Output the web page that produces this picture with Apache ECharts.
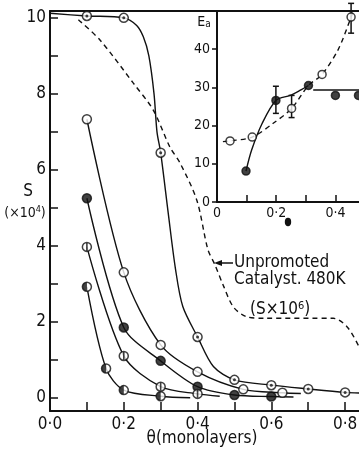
<!DOCTYPE html>
<html>
<head>
<meta charset="utf-8">
<script src="https://cdn.jsdelivr.net/npm/echarts@6/dist/echarts.min.js"></script>
<style>
  html, body { margin: 0; padding: 0; background: #fff; }
  #chart { width: 359px; height: 450px; }
</style>
</head>
<body>
<div id="chart"></div>
<script>
// ---- main plot: S (x10^4) vs coverage theta ----
var xTicks = [0, 0.1, 0.2, 0.3, 0.4, 0.5, 0.6, 0.7, 0.8, 0.9];
var xLabels = [0, 0.2, 0.4, 0.6, 0.8];
var yTicks = [0, 1, 2, 3, 4, 5, 6, 7, 8, 9, 10];
var yLabels = [0, 2, 4, 6, 8, 10];

// markers, [theta, S]
var dotCircle = [[0.1, 10.05], [0.2, 10.0], [0.3, 6.45], [0.4, 1.6], [0.5, 0.47], [0.6, 0.33], [0.7, 0.23], [0.8, 0.14]];
var openCircle = [[0.1, 7.33], [0.2, 3.3], [0.3, 1.39], [0.4, 0.68], [0.524, 0.22], [0.63, 0.13]];
var filledCircle = [[0.1, 5.25], [0.2, 1.85], [0.3, 0.97], [0.4, 0.29], [0.5, 0.07], [0.6, 0.03]];
var barCircle = [[0.1, 3.97], [0.2, 1.1], [0.3, 0.29], [0.4, 0.1]];
var halfCircle = [[0.1, 2.92], [0.152, 0.77], [0.2, 0.2], [0.3, 0.04]];

// drawn curves
var dotCircleCurve = [[0, 10.12], [0.1, 10.05], [0.2, 10.0], [0.235, 9.8], [0.253, 9.5], [0.268, 9.0], [0.282, 8.0],
    [0.29, 7.0], [0.3, 6.45], [0.32, 4.9], [0.34, 3.4], [0.36, 2.4], [0.4, 1.6], [0.443, 0.82], [0.5, 0.47],
    [0.6, 0.33], [0.7, 0.23], [0.8, 0.14], [0.85, 0.12]];
var openTail = [[0.68, 0.11]];
var filledTail = [[0.66, 0.02]];
var barTail = [[0.46, 0.04]];
var halfTail = [[0.38, 0.0]];
var unpromoted = [[0.077, 9.95], [0.136, 9.41], [0.226, 8.28], [0.28, 7.57], [0.325, 6.6], [0.353, 6.17], [0.398, 5.2],
    [0.428, 3.9], [0.447, 3.5], [0.47, 2.95], [0.497, 2.39], [0.533, 2.13], [0.58, 2.09], [0.768, 2.09],
    [0.805, 1.87], [0.838, 1.34], [0.86, 0.9]];

// ---- inset: Ea vs theta ----
var insetXTicks = [0, 0.1, 0.2, 0.3, 0.4];
var insetXLabels = [0, 0.2, 0.4];
var insetYTicks = [0, 10, 20, 30, 40];
var insetYLabels = [0, 10, 20, 30, 40];
var eaOpen = [[0.044, 16.0], [0.119, 17.0], [0.252, 24.5], [0.355, 33.4], [0.453, 48.4]];
var eaFilled = [[0.098, 8.1], [0.199, 26.6], [0.309, 30.5], [0.4, 27.9], [0.478, 27.9]];
var eaOpenCurve = [[0.02, 15.8], [0.044, 16.0], [0.119, 17.0], [0.19, 20.6], [0.252, 24.5], [0.309, 30.5],
    [0.355, 33.4], [0.41, 40], [0.453, 48.4], [0.47, 52]];
var eaFilledRise = [[0.098, 8.1], [0.117, 13.6], [0.152, 20.5], [0.199, 26.6], [0.247, 27.9], [0.28, 29.2], [0.309, 30.5]];
var eaFilledFlat = [[0.325, 29.3], [0.5, 29.3]];
// error bars [theta, low, high]
var eaOpenErr = [[0.252, 22.1, 27.9], [0.453, 44.2, 52]];
var eaFilledErr = [[0.199, 23.2, 30.3]];

var FONT = "'Liberation Sans Narrow', 'DejaVu Sans Condensed', sans-serif";
var INK = '#111';

function fmtTheta(v) {
    if (v === 0) return '0·0';
    return v.toFixed(1).replace('.', '·');
}
function fmtInsetTheta(v) {
    if (v === 0) return '0';
    return v.toFixed(1).replace('.', '·');
}

function curve(data, xi, yi, dashed) {
    return {
        type: 'line', xAxisIndex: xi, yAxisIndex: yi, data: data,
        showSymbol: false, smooth: 0.3, z: 2, silent: true,
        lineStyle: { color: INK, width: 1.4, type: dashed ? [5, 4] : 'solid' }
    };
}
function marks(data, xi, yi, size, filled) {
    return {
        type: 'scatter', xAxisIndex: xi, yAxisIndex: yi, data: data, symbol: 'circle', symbolSize: size, z: 4,
        itemStyle: { color: filled ? INK : '#fff', borderColor: INK, borderWidth: 1.5 }
    };
}
function overlay(data, symbol, size, offset) {
    return {
        type: 'scatter', xAxisIndex: 0, yAxisIndex: 0, data: data, symbol: symbol, symbolSize: size,
        symbolOffset: offset || [0, 0], z: 5, itemStyle: { color: INK }
    };
}
function errBars(data) {
    return {
        type: 'custom', xAxisIndex: 2, yAxisIndex: 1, data: data, z: 3,
        renderItem: function (params, api) {
            var lo = api.coord([api.value(0), api.value(1)]);
            var hi = api.coord([api.value(0), api.value(2)]);
            var st = { stroke: INK, lineWidth: 1.5 };
            return {
                type: 'group', children: [
                    { type: 'line', shape: { x1: lo[0], y1: lo[1], x2: hi[0], y2: hi[1] }, style: st },
                    { type: 'line', shape: { x1: lo[0] - 3, y1: lo[1], x2: lo[0] + 3, y2: lo[1] }, style: st },
                    { type: 'line', shape: { x1: hi[0] - 3, y1: hi[1], x2: hi[0] + 3, y2: hi[1] }, style: st }
                ]
            };
        }
    };
}

var axisLine = { onZero: false, lineStyle: { color: INK, width: 2 } };

var option = {
    backgroundColor: '#fff',
    animation: false,
    grid: [
        { left: 50, top: 11, right: -23, bottom: 39, outerBoundsMode: 'none' },
        { left: 217, top: 11, right: -6, bottom: 248, outerBoundsMode: 'none' }
    ],
    xAxis: [
        {
            gridIndex: 0, type: 'value', min: 0, max: 0.9, interval: 0.1,
            axisLine: axisLine,
            axisTick: { inside: true, length: 9, customValues: xTicks, lineStyle: { color: INK, width: 1.5 } },
            axisLabel: { customValues: xLabels, formatter: fmtTheta, margin: 5, color: INK, fontSize: 17, fontFamily: FONT },
            splitLine: { show: false }
        },
        {
            // top frame line
            gridIndex: 0, type: 'value', position: 'top', min: 0, max: 0.9,
            axisLine: axisLine, axisTick: { show: false }, axisLabel: { show: false }, splitLine: { show: false }
        },
        {
            gridIndex: 1, type: 'value', min: 0, max: 0.5, interval: 0.1,
            axisLine: axisLine,
            axisTick: { inside: true, length: 7, customValues: insetXTicks, lineStyle: { color: INK, width: 1.5 } },
            axisLabel: { customValues: insetXLabels, formatter: fmtInsetTheta, margin: 4, color: INK, fontSize: 14, fontFamily: FONT },
            splitLine: { show: false }
        }
    ],
    yAxis: [
        {
            gridIndex: 0, type: 'value', min: -0.35, max: 10.18,
            axisLine: axisLine,
            axisTick: { inside: true, length: 8, customValues: yTicks, lineStyle: { color: INK, width: 1.5 } },
            axisLabel: { customValues: yLabels, margin: 4, color: INK, fontSize: 17, fontFamily: FONT },
            splitLine: { show: false }
        },
        {
            gridIndex: 1, type: 'value', min: 0, max: 50,
            axisLine: axisLine,
            axisTick: { inside: false, length: 5, customValues: insetYTicks, lineStyle: { color: INK, width: 1.5 } },
            axisLabel: { customValues: insetYLabels, margin: 7, color: INK, fontSize: 14, fontFamily: FONT },
            splitLine: { show: false }
        }
    ],
    series: [
        // main plot
        curve(unpromoted, 0, 0, true),
        curve(dotCircleCurve, 0, 0),
        curve(openCircle.concat(openTail), 0, 0),
        curve(filledCircle.concat(filledTail), 0, 0),
        curve(barCircle.concat(barTail), 0, 0),
        curve(halfCircle.concat(halfTail), 0, 0),
        marks(dotCircle, 0, 0, 9, false),
        marks(openCircle, 0, 0, 9, false),
        marks(filledCircle, 0, 0, 9, true),
        marks(barCircle, 0, 0, 9, false),
        marks(halfCircle, 0, 0, 9, false),
        overlay(dotCircle, 'circle', 3),
        overlay(barCircle, 'rect', [1.6, 8]),
        overlay(halfCircle, 'path://M5,0 A5,5 0 0 0 5,10 Z', [4.5, 9], [-2.2, 0]),
        // inset
        curve(eaOpenCurve, 2, 1, true),
        curve(eaFilledRise, 2, 1),
        curve(eaFilledFlat, 2, 1),
        errBars(eaOpenErr),
        errBars(eaFilledErr),
        marks(eaOpen, 2, 1, 8, false),
        marks(eaFilled, 2, 1, 8, true)
    ],
    graphic: [
        { type: 'text', x: 28, y: 192, style: { text: 'S', font: '17px ' + FONT, fill: INK, align: 'center', verticalAlign: 'middle' } },
        {
            type: 'text', x: 25, y: 213,
            style: {
                text: '(×10{sup|4})', font: '14px ' + FONT, fill: INK, align: 'center', verticalAlign: 'middle',
                rich: { sup: { fontSize: 9, fontFamily: FONT, verticalAlign: 'top', padding: [0, 0, 6, 0] } }
            }
        },
        { type: 'text', x: 202, y: 439, style: { text: 'θ(monolayers)', font: '17px ' + FONT, fill: INK, align: 'center', verticalAlign: 'middle' } },
        {
            type: 'text', x: 204, y: 22,
            style: {
                text: 'E{s|a}', font: '14px ' + FONT, fill: INK, align: 'center', verticalAlign: 'middle',
                rich: { s: { fontSize: 10, fontFamily: FONT, padding: [5, 0, 0, 0] } }
            }
        },
        { type: 'circle', shape: { cx: 288, cy: 222, r: 3.2 }, scaleY: 1.3, originY: 222, style: { fill: INK } },
        // annotation for the dashed curve
        { type: 'line', shape: { x1: 219, y1: 263, x2: 233, y2: 263 }, style: { stroke: INK, lineWidth: 1.5 } },
        { type: 'polygon', shape: { points: [[214, 263], [222, 260], [222, 266]] }, style: { fill: INK } },
        { type: 'text', x: 234, y: 263, style: { text: 'Unpromoted', font: '17px ' + FONT, fill: INK, align: 'left', verticalAlign: 'middle' } },
        { type: 'text', x: 234, y: 280, style: { text: 'Catalyst. 480K', font: '17px ' + FONT, fill: INK, align: 'left', verticalAlign: 'middle' } },
        {
            type: 'text', x: 250, y: 310,
            style: {
                text: '(S×10{sup|6})', font: '17px ' + FONT, fill: INK, align: 'left', verticalAlign: 'middle',
                rich: { sup: { fontSize: 11, fontFamily: FONT, padding: [0, 0, 8, 0] } }
            }
        }
    ]
};

var chart = echarts.init(document.getElementById('chart'));
chart.setOption(option);
window.addEventListener('resize', function () {
    chart.resize();
});
</script>
</body>
</html>
